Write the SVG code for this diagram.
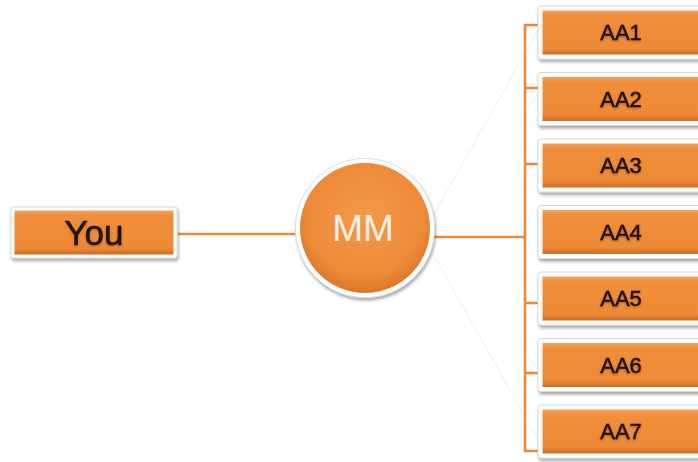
<svg xmlns="http://www.w3.org/2000/svg" width="698" height="462" viewBox="0 0 698 462">
  <defs>
    <linearGradient id="boxFill" x1="0" y1="0" x2="0" y2="1">
      <stop offset="0" stop-color="#F7A35C"/>
      <stop offset="0.12" stop-color="#F08E3B"/>
      <stop offset="0.85" stop-color="#EE8A36"/>
      <stop offset="1" stop-color="#C96E24"/>
    </linearGradient>
    <radialGradient id="discFill" cx="0.5" cy="0.42" r="0.6">
      <stop offset="0" stop-color="#F39A4C"/>
      <stop offset="0.75" stop-color="#EE8A38"/>
      <stop offset="1" stop-color="#D77626"/>
    </radialGradient>
    <filter id="shadow" x="-20%" y="-20%" width="140%" height="160%">
      <feDropShadow dx="1" dy="2.5" stdDeviation="1.6" flood-color="#000" flood-opacity="0.35"/>
    </filter>
    <filter id="textGlow" x="-10%" y="-20%" width="120%" height="140%">
      <feDropShadow dx="0" dy="1" stdDeviation="0.8" flood-color="#5a2c00" flood-opacity="0.5"/>
    </filter>
  </defs>
  <style>
    .frame { fill: #ffffff; stroke: #d8d8d8; stroke-width: 1; filter: url(#shadow); }
    .plate { fill: url(#boxFill); }
    .link { stroke: #EC8A3C; stroke-width: 2.6; fill: none; }
    .ghost { stroke: #cfcfcf; stroke-width: 0.6; fill: none; opacity: 0.55; }
    .label { font-family: "Liberation Sans", Arial, sans-serif; fill: #1a1208; stroke: #1a1208; stroke-width: 0.45; text-anchor: middle; filter: url(#textGlow); }
    .small { font-size: 22px; }
  </style>

  <rect width="698" height="462" fill="#ffffff"/>

  <!-- faint reflection lines from the hub towards the outer branch boxes -->
  <g id="reflections">
    <line class="ghost" x1="432" y1="218" x2="538" y2="30"/>
    <line class="ghost" x1="525" y1="110" x2="538" y2="96"/>
    <line class="ghost" x1="525" y1="172" x2="538" y2="162"/>
    <line class="ghost" x1="525" y1="290" x2="538" y2="300"/>
    <line class="ghost" x1="525" y1="355" x2="538" y2="368"/>
    <line class="ghost" x1="432" y1="252" x2="538" y2="440"/>
  </g>

  <!-- connectors -->
  <g id="connectors">
    <line class="link" x1="178" y1="234" x2="296" y2="234"/>
    <line class="link" x1="434" y1="237" x2="525" y2="237"/>
    <polyline class="link" points="539,25 525,25 525,451 539,451"/>
    <line class="link" x1="525" y1="88" x2="539" y2="88"/>
    <line class="link" x1="525" y1="164" x2="539" y2="164"/>
    <line class="link" x1="525" y1="303" x2="539" y2="303"/>
    <line class="link" x1="525" y1="373" x2="539" y2="373"/>
  </g>

  <!-- source node -->
  <g id="you">
    <rect class="frame" x="11" y="207" width="166" height="51" rx="2"/>
    <rect class="plate" x="14.5" y="210.5" width="159" height="44"/>
    <text class="label" x="94" y="245" font-size="35">You</text>
  </g>

  <!-- hub -->
  <g id="mm">
    <circle cx="365" cy="228" r="69.5" fill="#ffffff" stroke="#dedede" stroke-width="1" filter="url(#shadow)"/>
    <circle cx="365" cy="228" r="65" fill="url(#discFill)"/>
    <text x="363" y="241" font-family="Liberation Sans, Arial, sans-serif" font-size="37" fill="#FBF1E6" text-anchor="middle">MM</text>
  </g>

  <!-- branch boxes -->
  <g id="aa1">
    <rect class="frame" x="538" y="6" width="170" height="53" rx="3"/>
    <rect class="plate" x="542.5" y="10.5" width="170" height="44"/>
    <text class="label small" x="621" y="40">AA1</text>
  </g>
  <g id="aa2">
    <rect class="frame" x="538" y="72.5" width="170" height="53" rx="3"/>
    <rect class="plate" x="542.5" y="77" width="170" height="44"/>
    <text class="label small" x="621" y="106.5">AA2</text>
  </g>
  <g id="aa3">
    <rect class="frame" x="538" y="139" width="170" height="53" rx="3"/>
    <rect class="plate" x="542.5" y="143.5" width="170" height="44"/>
    <text class="label small" x="621" y="173">AA3</text>
  </g>
  <g id="aa4">
    <rect class="frame" x="538" y="205.5" width="170" height="53" rx="3"/>
    <rect class="plate" x="542.5" y="210" width="170" height="44"/>
    <text class="label small" x="621" y="239.5">AA4</text>
  </g>
  <g id="aa5">
    <rect class="frame" x="538" y="272" width="170" height="53" rx="3"/>
    <rect class="plate" x="542.5" y="276.5" width="170" height="44"/>
    <text class="label small" x="621" y="306">AA5</text>
  </g>
  <g id="aa6">
    <rect class="frame" x="538" y="338.5" width="170" height="53" rx="3"/>
    <rect class="plate" x="542.5" y="343" width="170" height="44"/>
    <text class="label small" x="621" y="372.5">AA6</text>
  </g>
  <g id="aa7">
    <rect class="frame" x="538" y="405" width="170" height="53" rx="3"/>
    <rect class="plate" x="542.5" y="409.5" width="170" height="44"/>
    <text class="label small" x="621" y="439">AA7</text>
  </g>
</svg>
